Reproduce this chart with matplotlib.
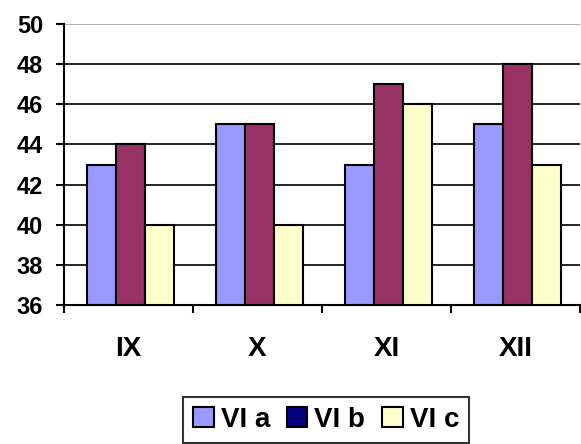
import matplotlib
matplotlib.use("Agg")
import matplotlib.pyplot as plt
from matplotlib.patches import Patch
import numpy as np

categories = ["IX", "X", "XI", "XII"]
series_names = ["VI a", "VI b", "VI c"]
vi_a = [43, 45, 43, 45]
vi_b = [44, 45, 47, 48]
vi_c = [40, 40, 46, 43]
bar_colors = ["#9999FF", "#993366", "#FFFFCC"]
legend_colors = ["#9999FF", "#000080", "#FFFFCC"]

plt.rcParams['font.family'] = ['Liberation Sans', 'DejaVu Sans']

fig = plt.figure(figsize=(5.81, 4.44), dpi=100)
ax = fig.add_axes([64/581, 1-305/444, (580-64)/581, (305-24)/444])

x = np.arange(len(categories))
w = 0.225
for i, vals in enumerate([vi_a, vi_b, vi_c]):
    ax.bar(x + (i-1)*w + 0.015, np.array(vals)-36, bottom=36, width=w, color=bar_colors[i],
           edgecolor='black', linewidth=1.5, zorder=3)

ax.set_ylim(36, 50)
ax.set_xlim(-0.5, 3.5)
ax.set_yticks(range(36, 51, 2))
ax.yaxis.grid(True, color='black', linewidth=1.2, zorder=0)
gl = ax.get_ygridlines()
gl[-1].set_color('#a0a0a0')
ax.set_axisbelow(True)
for s in ['top', 'right']:
    ax.spines[s].set_visible(False)
ax.spines['left'].set_linewidth(1.5)
ax.spines['bottom'].set_linewidth(1.5)

ax.set_xticks(np.arange(-0.5, 4.0, 1.0))
ax.set_xticklabels([])
ax.set_xticks(x, minor=True)
ax.set_xticklabels(categories, minor=True, fontsize=20, fontweight='bold')
ax.tick_params(axis='x', which='major', direction='out', length=6, width=1.5)
ax.tick_params(axis='x', which='minor', length=0, pad=22)
ax.tick_params(axis='y', direction='out', length=6, width=1.5, labelsize=17, pad=9)
for lab in ax.get_yticklabels():
    lab.set_fontweight('bold')

handles = [Patch(facecolor=c, edgecolor='black', linewidth=1.5) for c in legend_colors]
leg = fig.legend(handles, series_names, loc='center', bbox_to_anchor=(326/581, 1-420/444),
                 ncol=3, frameon=True, fancybox=False, edgecolor='black',
                 prop={'size': 20, 'weight': 'bold'}, handlelength=0.75, handleheight=0.75,
                 handletextpad=0.25, columnspacing=0.6, borderpad=0.35, borderaxespad=0)
leg.get_frame().set_linewidth(1.5)

fig.savefig("out.png", dpi=100)
